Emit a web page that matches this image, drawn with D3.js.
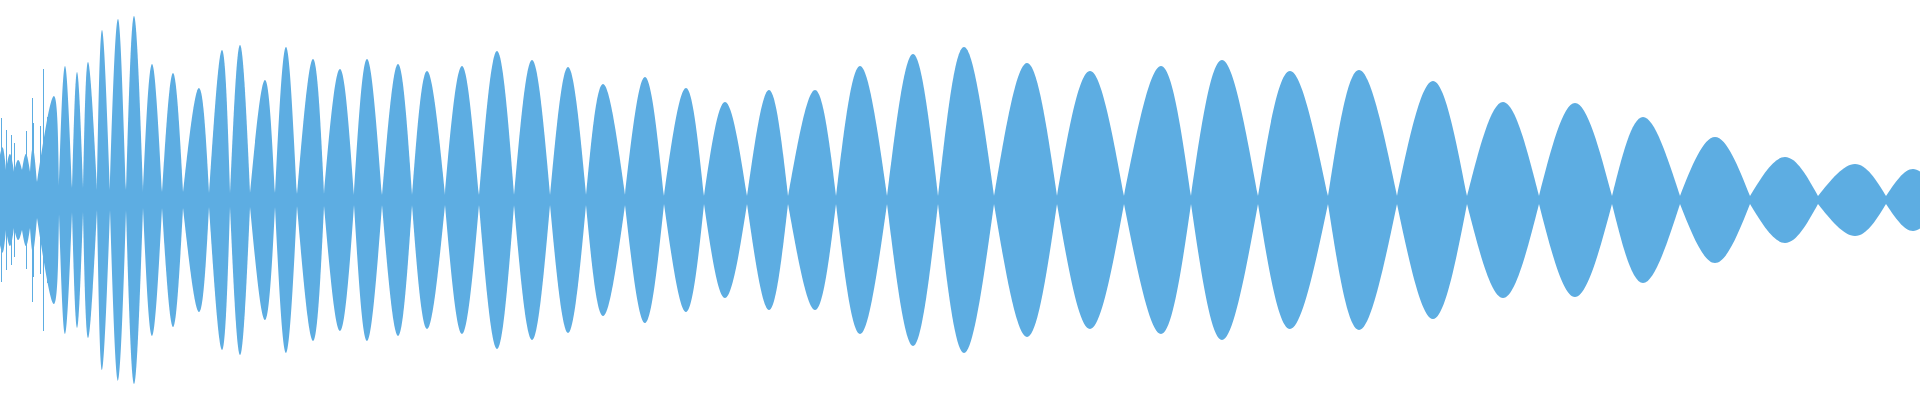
<!DOCTYPE html>
<html>
<head>
<meta charset="utf-8">
<script src="https://cdn.jsdelivr.net/npm/d3@7"></script>
<style>
  html, body { margin: 0; padding: 0; background: #ffffff; }
  svg { display: block; }
</style>
</head>
<body>
<svg id="wave"></svg>
<script>
// Lobe boundaries (x of the narrow "nodes" of the envelope)
const nodeX = [0, 6, 14, 22, 30, 37, 59, 72, 83, 97, 110, 126, 143, 162, 183, 209, 230, 250, 275, 297,
    324, 354, 382, 412, 445, 479, 514, 550, 586, 625, 664, 704, 747, 788, 836, 887, 938, 994, 1057,
    1124, 1191, 1258, 1328, 1397, 1467, 1539, 1612, 1680, 1750, 1818, 1886, 1940];
// Envelope amplitude at each node
const nodeAmp = [45, 30, 28, 30, 28, 18, 14, 12, 12, 10, 10, 10, 8, 8, 8, 7, 7, 7, 7, 6,
    6, 5, 5, 5, 5, 5, 5, 5, 5, 5, 4, 4, 4, 4, 4, 4, 4, 4, 4,
    4, 4, 4, 4, 4, 4, 4, 4, 4, 4, 4, 4, 4];
// Peak of each lobe: position and amplitude
const peakX = [3, 10, 18, 26, 33, 54, 65, 77, 88, 102, 118, 134, 152, 173, 199, 222, 240, 265, 286,
    313, 340, 367, 398, 427, 462, 497, 532, 568, 603, 645, 686, 725, 769, 815, 860, 913, 964, 1027,
    1090, 1161, 1222, 1290, 1359, 1433, 1503, 1575, 1643, 1715, 1785, 1855, 1913];
const peakAmp = [52, 46, 40, 46, 52, 104, 134, 128, 138, 170, 181, 184, 136, 127, 112, 150, 155, 120, 153,
    141, 131, 141, 136, 129, 134, 149, 140, 133, 116, 123, 112, 98, 110, 110, 134, 146, 153, 137,
    129, 134, 140, 129, 130, 119, 98, 97, 83, 63, 43, 36, 31];
// Isolated tall samples in the noisy attack at the start
const spikeX = [1, 6, 11, 14, 26, 32, 33, 40, 43, 47, 52];
const spikeAmp = [82, 70, 65, 57, 69, 102, 77, 74, 131, 83, 96];

const width = 1920;
const height = 400;
const color = "#5dade2";

const svg = d3.select("#wave")
    .attr("width", width)
    .attr("height", height)
    .attr("viewBox", [0, 0, width, height]);

const x = d3.scaleLinear().domain([0, 1920]).range([0, width]);
const y = d3.scaleLinear().domain([-200, 200]).range([height, 0]);

const area = d3.area()
    .x(d => x(d.x))
    .y0(d => y(-d.a))
    .y1(d => y(d.a))
    .curve(d3.curveNatural);

// one path per lobe so the nodes stay pointed
const lobes = peakX.map((px, i) => [
    { x: nodeX[i], a: nodeAmp[i] },
    { x: px, a: peakAmp[i] },
    { x: nodeX[i + 1], a: nodeAmp[i + 1] }
]);

svg.append("g")
    .selectAll("path")
    .data(lobes)
    .enter()
    .append("path")
    .attr("d", area)
    .attr("fill", color);

svg.append("g")
    .selectAll("rect")
    .data(spikeX.map((sx, i) => ({ x: sx, a: spikeAmp[i] })))
    .enter()
    .append("rect")
    .attr("x", d => x(d.x))
    .attr("y", d => y(d.a))
    .attr("width", 1)
    .attr("height", d => y(-d.a) - y(d.a))
    .attr("fill", color);
</script>
</body>
</html>
